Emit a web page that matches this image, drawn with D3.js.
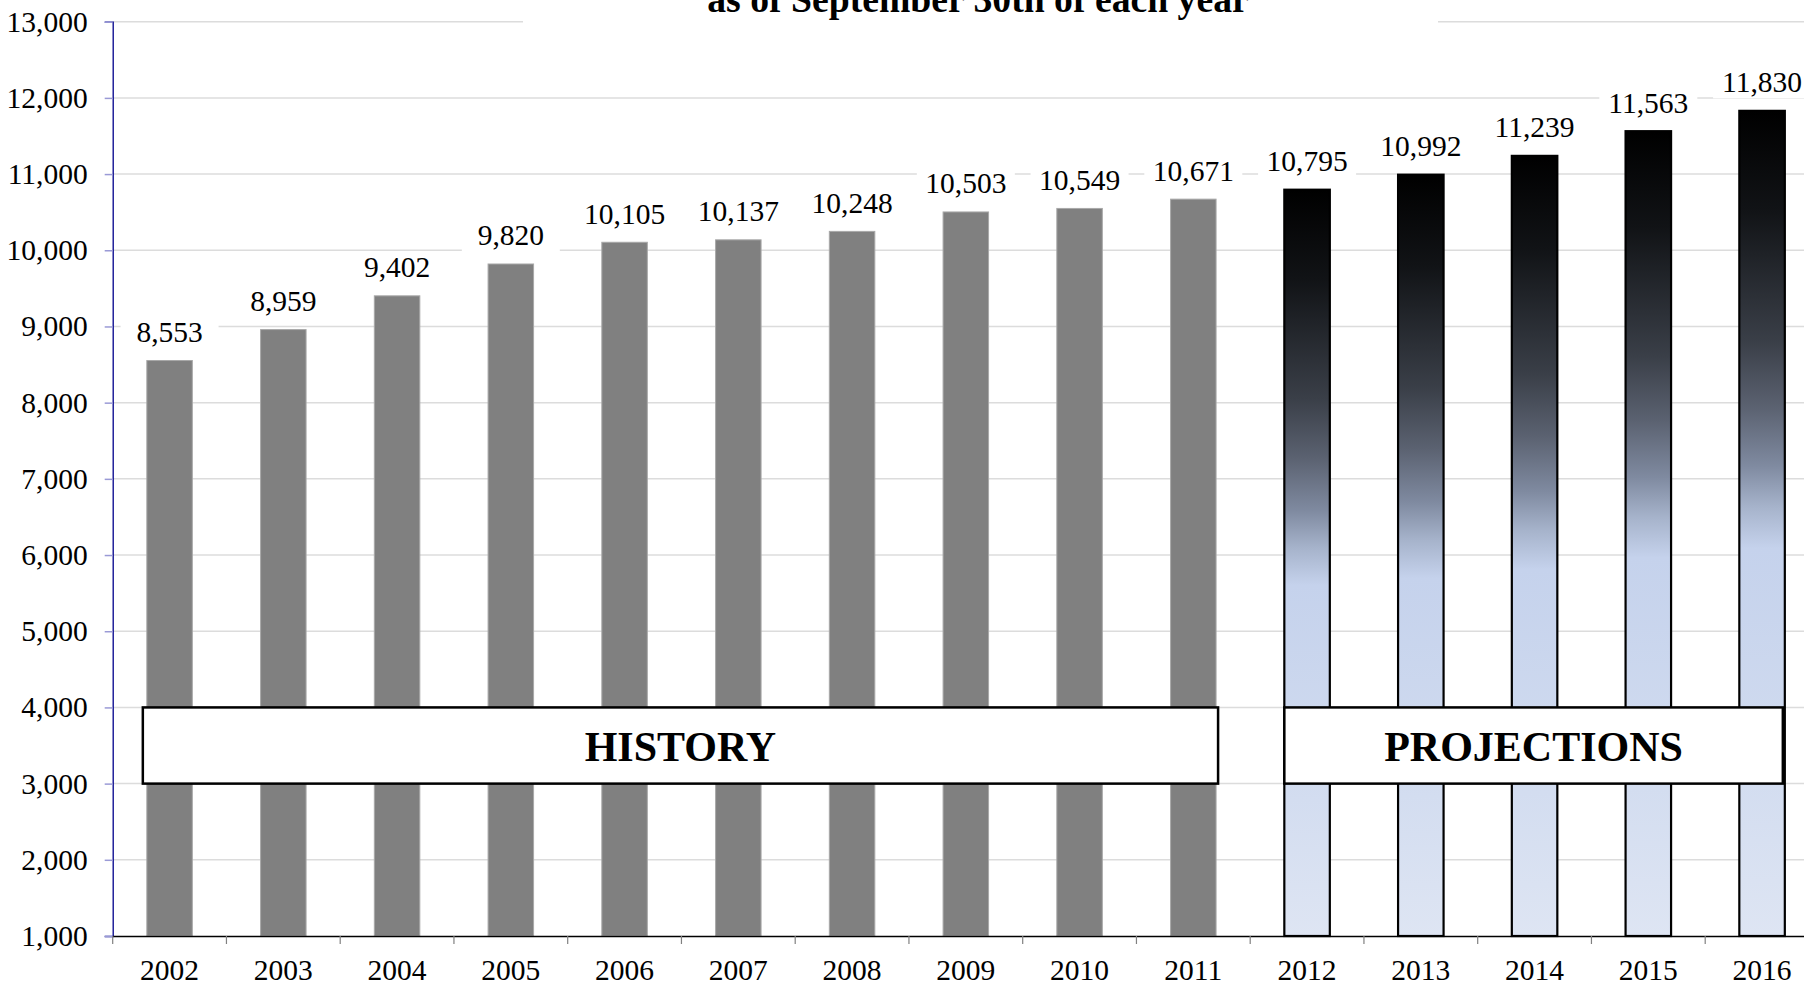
<!DOCTYPE html>
<html>
<head>
<meta charset="utf-8">
<script src="https://cdn.jsdelivr.net/npm/d3@7"></script>
<style>
  html, body { margin: 0; padding: 0; background: #fff; overflow: hidden; }
  svg { display: block; font-family: "Liberation Serif", "Times New Roman", serif; }
</style>
</head>
<body>
<svg id="chart" width="1804" height="985"></svg>
<script>

// DATA
// --------------------------------------------------------------------------

var years = ['2002', '2003', '2004', '2005', '2006', '2007', '2008', '2009',
             '2010', '2011', '2012', '2013', '2014', '2015', '2016'];

var counts = [8553, 8959, 9402, 9820, 10105, 10137, 10248, 10503,
              10549, 10671, 10795, 10992, 11239, 11563, 11830];

var firstProjection = '2012';

var yTicks = [1000, 2000, 3000, 4000, 5000, 6000, 7000, 8000, 9000,
              10000, 11000, 12000, 13000];

var titleText = 'as of September 30th of each year';


// SCALES
// --------------------------------------------------------------------------

var svg = d3.select('#chart');
var serif = '"Liberation Serif", "Times New Roman", serif';
var fontSize = 29.5;

// (window.top is read-only, so the plot edges get their own names)
var plotLeft = 112.7, step = 113.75, plotBottom = 936, plotTop = 21.7;

var x = d3.scaleBand()
  .domain(years)
  .range([plotLeft, plotLeft + step * years.length])
  .paddingInner(0.6)
  .paddingOuter(0.3);

var y = d3.scaleLinear().domain([1000, 13000]).range([plotBottom, plotTop]);

var fmt = d3.format(',');
var rows = years.map(function(yr, i) {
  return { year: yr, value: counts[i], proj: yr >= firstProjection };
});

// Projection fill: black on top, fading to pale blue, per bar.
var defs = svg.append('defs');
var grad = defs.append('linearGradient')
  .attr('id', 'projFill')
  .attr('x1', 0).attr('x2', 0)
  .attr('y1', 0).attr('y2', 1);

[
  [0.00, '#000000'],
  [0.12, '#111316'],
  [0.28, '#3a3f48'],
  [0.36, '#5b6271'],
  [0.43, '#7f8aa0'],
  [0.48, '#a6b3cb'],
  [0.53, '#c5d2ec'],
  [0.75, '#cfdaef'],
  [1.00, '#dee5f3']
].forEach(function(s) {
  grad.append('stop').attr('offset', s[0]).attr('stop-color', s[1]);
});


// GRID + AXES
// --------------------------------------------------------------------------

svg.append('g')
  .selectAll('line')
  .data(yTicks.slice(1))
  .join('line')
  .attr('x1', plotLeft).attr('x2', 1804)
  .attr('y1', function(d) { return y(d); })
  .attr('y2', function(d) { return y(d); })
  .attr('stroke', '#dcdcdc')
  .attr('stroke-width', 1.5);

var yAxis = svg.append('g')
  .attr('transform', 'translate(' + plotLeft + ',0)')
  .call(d3.axisLeft(y).tickValues(yTicks).tickFormat(fmt)
    .tickSize(8).tickPadding(17));

yAxis.select('.domain').attr('stroke', '#00008b').attr('stroke-width', 1.3);
yAxis.selectAll('.tick line').attr('stroke', '#9a9ad6').attr('stroke-width', 1.5);
yAxis.selectAll('.tick text')
  .attr('fill', '#000')
  .attr('font-size', fontSize)
  .attr('font-family', serif);


// TITLE (cut by the top edge)
// --------------------------------------------------------------------------

svg.append('rect')
  .attr('x', 523).attr('y', 0)
  .attr('width', 915).attr('height', 30)
  .attr('fill', '#fff');

svg.append('text')
  .attr('x', 978).attr('y', 12)
  .attr('text-anchor', 'middle')
  .attr('font-size', 37.7)
  .attr('font-weight', 'bold')
  .text(titleText);


// BARS
// --------------------------------------------------------------------------

svg.append('g')
  .selectAll('rect')
  .data(rows)
  .join('rect')
  .attr('x', function(d) { return x(d.year); })
  .attr('y', function(d) { return y(d.value); })
  .attr('width', x.bandwidth())
  .attr('height', function(d) { return plotBottom - y(d.value); })
  .attr('fill', function(d) { return d.proj ? 'url(#projFill)' : '#808080'; })
  .attr('stroke', function(d) { return d.proj ? '#000' : '#a8a8a8'; })
  .attr('stroke-width', function(d) { return d.proj ? 2.2 : 1; });

// Value labels sit on white boxes that break the gridlines.
var labels = svg.append('g')
  .selectAll('g')
  .data(rows)
  .join('g')
  .attr('transform', function(d) {
    return 'translate(' + (x(d.year) + x.bandwidth() / 2) + ',' +
      (y(d.value) - 18.5) + ')';
  });

labels.append('rect')
  .attr('x', -49).attr('y', -25)
  .attr('width', 98).attr('height', 31)
  .attr('fill', '#fff');

labels.append('text')
  .attr('text-anchor', 'middle')
  .attr('font-size', fontSize)
  .text(function(d) { return fmt(d.value); });


// X AXIS
// --------------------------------------------------------------------------

var xAxis = svg.append('g')
  .attr('transform', 'translate(0,' + plotBottom + ')')
  .call(d3.axisBottom(x).tickSize(0).tickPadding(23));

xAxis.select('.domain').attr('stroke', '#000').attr('stroke-width', 1.6);
xAxis.selectAll('.tick text')
  .attr('fill', '#000')
  .attr('font-size', fontSize)
  .attr('font-family', serif);

// Category boundary ticks.
svg.append('g')
  .selectAll('line')
  .data(years)
  .join('line')
  .attr('x1', function(d) { return x(d) - x.step() * 0.3; })
  .attr('x2', function(d) { return x(d) - x.step() * 0.3; })
  .attr('y1', plotBottom).attr('y2', plotBottom + 8)
  .attr('stroke', '#808080')
  .attr('stroke-width', 1.2);


// PERIOD BOXES
// --------------------------------------------------------------------------

var periods = [
  { label: 'HISTORY', from: '2002', to: '2011', padL: 4, padR: 2 },
  { label: 'PROJECTIONS', from: '2012', to: '2016', padL: 0, padR: -2 }
];

var boxes = svg.append('g')
  .selectAll('g')
  .data(periods)
  .join('g');

boxes.append('rect')
  .attr('x', function(d) { return x(d.from) - d.padL; })
  .attr('y', y(4000))
  .attr('width', function(d) {
    return x(d.to) + x.bandwidth() + d.padR - (x(d.from) - d.padL);
  })
  .attr('height', y(3000) - y(4000))
  .attr('fill', '#fff')
  .attr('stroke', '#000')
  .attr('stroke-width', 2.5);

boxes.append('text')
  .attr('x', function(d) {
    return (x(d.from) - d.padL + x(d.to) + x.bandwidth() + d.padR) / 2;
  })
  .attr('y', 761)
  .attr('text-anchor', 'middle')
  .attr('font-size', 42)
  .attr('font-weight', 'bold')
  .text(function(d) { return d.label; });

</script>
</body>
</html>
